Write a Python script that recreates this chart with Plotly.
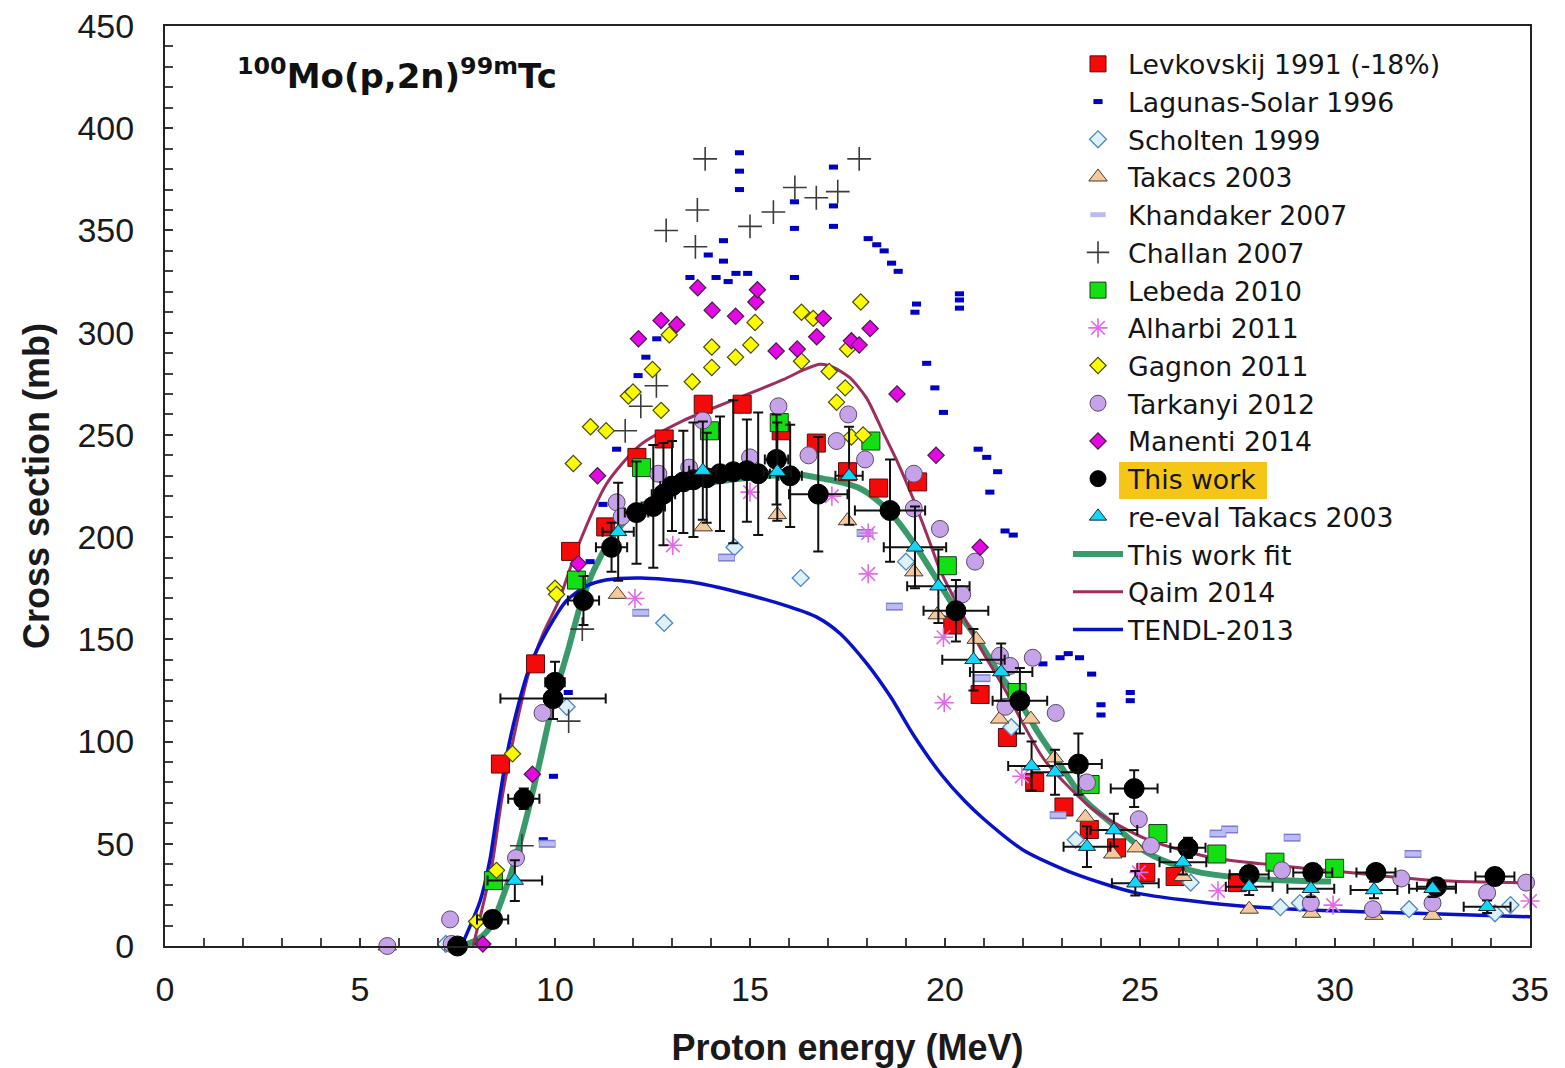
import plotly.graph_objects as go

# ---------------- data (proton energy in MeV, cross section in mb) ----------------
lev_x = [8.6, 9.5, 10.4, 11.3, 12.1, 12.8, 13.8, 14.8, 15.8, 16.7, 17.5, 18.3, 19.3, 20.2,
         20.9, 21.6, 22.3, 23.05, 23.7, 24.4, 25.15, 25.9, 27.5]
lev_y = [89, 138, 193, 205, 239, 248, 265, 265, 252, 246, 232, 224, 227, 157,
         123, 102, 80, 68, 57, 48, 36, 34, 31]

lag_x = [9.7, 9.96, 10.34, 10.9, 11.23, 11.58, 12.13, 12.33, 12.61, 13.46, 13.93, 14.13, 14.32,
         14.32, 14.44, 14.64, 14.94, 14.73, 14.73, 14.73, 16.14, 16.14, 16.14, 17.14, 17.14,
         17.14, 18.03, 18.25, 18.44, 18.63, 18.8, 19.23, 19.27, 20.37, 20.37, 20.37, 19.53,
         19.74, 19.96, 20.85, 21.07, 21.35, 21.15, 21.54, 21.75, 22.51, 22.95, 23.16, 23.45,
         23.76, 24.0, 24.0, 24.75, 24.75]
lag_y = [52, 83, 124, 188, 216, 243, 279, 288, 297, 327, 338, 327, 345,
         335, 325, 329, 329, 388, 379, 370, 364, 351, 327, 381, 362,
         352, 346, 343, 340, 334, 330, 310, 314, 319, 316, 312, 285,
         273, 261, 243, 239, 232, 222, 203, 201, 138, 141, 143, 141,
         133, 118, 113, 124, 120]

sch_x = [7.2, 10.3, 12.8, 14.6, 16.3, 19.0, 21.7, 23.35, 26.3, 28.6, 29.1, 31.9, 34.1, 34.5]
sch_y = [1, 117, 158, 195, 180, 188, 107, 52, 31, 19, 21, 18, 16, 20]

tak_x = [5.7, 7.4, 11.6, 13.8, 15.7, 17.5, 19.2, 19.8, 20.8, 21.4, 22.2, 22.8, 23.6, 24.3,
         24.9, 26.1, 27.8, 29.4, 31.0, 32.5]
tak_y = [0, 0, 172, 205, 211, 208, 183, 162, 150, 111, 111, 92, 63, 45,
         48, 34, 18, 16, 15, 15]

kha_x = [9.8, 12.2, 14.4, 17.95, 18.7, 20.95, 22.9, 27.0, 27.3, 28.9, 32.0]
kha_y = [50, 163, 190, 202, 166, 131, 64, 55, 57, 53, 45]

cha_x = [9.15, 10.35, 10.7, 11.8, 12.2, 12.6, 12.85, 13.6, 13.65, 13.85, 15.0, 15.6, 16.15,
         16.7, 17.25, 17.8]
cha_y = [49, 110, 155, 252, 264, 274, 350, 342, 360, 385, 352, 359, 371,
         366, 369, 385]

leb_x = [8.42, 10.55, 12.22, 13.96, 15.75, 18.1, 20.06, 21.85, 23.72, 25.46, 26.97, 28.46, 29.99]
leb_y = [32, 179, 234, 252, 256, 247, 186, 124, 79, 55, 45, 41, 38]

alh_x = [12.05, 13.02, 15.0, 17.1, 18.03, 18.03, 19.96, 19.98, 21.97, 24.97, 27.0, 29.95, 35.0]
alh_y = [170, 196, 222, 220, 202, 182, 151, 119, 83, 36, 27, 20, 22]

gag_x = [7.99, 8.5, 8.91, 10.0, 10.04, 10.47, 10.91, 11.31, 11.88, 12.0, 12.5, 12.72, 12.93,
         13.52, 14.02, 14.02, 14.63, 15.02, 15.13, 16.32, 16.62, 16.32, 17.03, 17.22, 17.44,
         17.5, 17.6, 17.84, 17.9]
gag_y = [12, 37, 94, 175, 172, 236, 254, 252, 269, 271, 282, 262, 299,
         276, 293, 283, 288, 294, 305, 310, 307, 286, 281, 266, 273,
         292, 249, 315, 250]

tar_x = [5.7, 7.31, 7.35, 9.0, 9.68, 11.58, 11.71, 12.65, 13.44, 13.79, 15.0, 15.73, 16.5,
         17.22, 17.52, 17.95, 19.2, 19.2, 19.87, 20.44, 20.77, 21.41, 21.55, 21.67, 22.25,
         22.84, 23.64, 24.97, 25.28, 28.64, 29.38, 30.97, 31.7, 32.5, 33.9, 34.9]
tar_y = [0, 13, 1, 43, 114, 217, 210, 231, 234, 257, 239, 264, 240,
         247, 260, 238, 231, 214, 204, 172, 188, 142, 117, 137, 141,
         114, 80, 62, 49, 37, 21, 18, 33, 21, 26, 31]

man_x = [8.15, 9.42, 10.6, 11.09, 12.14, 12.72, 13.12, 13.66, 14.03, 14.63, 15.15, 15.19,
         15.67, 16.21, 16.71, 16.88, 17.6, 17.8, 18.08, 18.77, 19.77, 20.9]
man_y = [1, 84, 187, 230, 297, 306, 304, 322, 311, 308, 315, 321,
         291, 292, 298, 307, 296, 294, 302, 270, 240, 195]

tw_x = [7.5, 8.4, 9.2, 10.0, 9.95, 10.73, 11.45, 12.09, 12.52, 12.78, 13.0, 13.29, 13.55,
        13.89, 14.23, 14.57, 14.92, 15.21, 15.68, 16.03, 16.75, 18.59, 20.28, 21.92, 23.42,
        24.85, 26.23, 27.8, 29.43, 31.05, 32.6, 34.1]
tw_y = [0, 13, 72, 129, 121, 169, 195, 212, 215, 221, 225, 227, 228,
        229, 231, 232, 232.5, 231, 238, 230, 221, 213, 164, 120, 89,
        77, 48, 35, 36, 36, 29, 34]
tw_dy = [0, 4, 5, 10, 10, 12, 12, 25, 30, 25, 22, 25, 28,
         22, 28, 35, 25, 30, 22, 25, 28, 25, 15, 16, 15,
         9, 5, 4, 4, 4, 4, 4]
tw_dx = [0, 0.4, 0.4, 0.25, 1.35, 0.4, 0.4, 0.3, 0.3, 0.3, 0.3, 0.3, 0.3,
         0.3, 0.3, 0.3, 0.3, 0.3, 0.3, 0.3, 0.75, 0.9, 0.83, 0.7, 0.6,
         0.6, 0.45, 0.5, 0.5, 0.5, 0.5, 0.5]

ret_x = [8.97, 11.62, 13.79, 15.7, 17.54, 19.23, 19.83, 20.73, 21.44, 22.22, 22.82, 23.64,
         24.33, 24.88, 26.1, 27.8, 29.38, 31.0, 32.5, 33.9]
ret_y = [32, 202.6, 232.5, 232, 230, 195, 176, 140, 134, 88, 85, 48.6,
         56.7, 30.7, 41, 29, 28, 27.4, 28, 19.2]
ret_dy = [10, 24, 24, 24, 24, 20, 18, 15, 14, 12, 11, 10,
          8, 6, 6, 4, 4, 4, 4, 3]
ret_dx = [0.7, 0.4, 0.35, 0.35, 0.35, 0.8, 0.8, 0.8, 0.8, 0.6, 0.6, 0.6,
          0.6, 0.6, 0.6, 0.6, 0.6, 0.6, 0.6, 0.6]

fit_x = [7.6, 8.0, 8.25, 8.46, 8.93, 9.27, 9.62, 9.96, 10.34, 10.64, 11.0, 11.4, 11.8, 12.2,
         12.8, 13.5, 14.5, 15.5, 16.3, 16.9, 17.3, 17.8, 18.2, 18.6, 19.2, 19.8, 20.3, 20.8,
         21.4, 21.9, 22.4, 22.9, 23.6, 24.4, 25.2, 26.3, 27.8, 29.9]
fit_y = [0, 3, 7, 14, 39, 63, 91, 120, 145, 166, 184, 198, 208, 215,
         221, 225, 228, 230, 230.5, 228.5, 227, 224, 219, 212, 197, 179, 164, 151,
         133, 120, 104, 90, 71, 58, 45.5, 37, 33, 31.5]

qaim_x = [7.9, 8.08, 8.38, 8.63, 8.93, 9.32, 9.7, 10.1, 10.6, 11.32, 12.18, 13.29, 14.57,
          15.85, 16.4, 16.8, 17.14, 17.56, 17.99, 18.42, 18.8, 19.2, 19.6, 19.87, 20.21,
          20.9, 21.49, 22.55, 23.82, 25.2, 26.9, 28.4, 30.5, 32.6, 35.0]
qaim_y = [0, 14, 39, 71, 101, 133, 153, 169, 196, 226, 245, 257, 267,
          277, 282, 284.5, 283, 278, 268, 251, 236, 218, 198, 184, 171,
          146, 127, 91, 66.5, 52, 43, 39.6, 35.7, 32, 30.8]

tendl_x = [7.6, 8.08, 8.33, 8.5, 8.76, 9.02, 9.36, 9.79, 10.3, 10.8, 11.3, 12.2, 13.5, 14.7,
           16.0, 16.7, 17.3, 18.0, 18.6, 19.2, 19.9, 20.5, 21.0, 22.0, 23.3, 24.9, 27.3,
           29.4, 32.1, 35.0]
tendl_y = [0, 22, 42, 63, 93, 115, 137, 154, 169, 176, 179, 180, 178, 173,
           166, 161, 153, 138, 122, 103, 84, 71, 62, 47, 35.5, 26, 20,
           17.6, 16, 14.3]

FONT = "Liberation Sans, Arial, sans-serif"
WIDE_FONT = "DejaVu Sans, sans-serif"

fig = go.Figure()

# evaluations / fits drawn beneath the measured points
def add_curve(name, x, y, color, width, rank):
    fig.add_trace(go.Scatter(
        x=x, y=y, mode="lines", name=name, legendrank=rank,
        line=dict(color=color, width=width, shape="spline", smoothing=0.7),
        cliponaxis=False))

add_curve("This work fit", fit_x, fit_y, "#3b9a6c", 6, 14)
add_curve("Qaim 2014", qaim_x, qaim_y, "#9c2f5c", 3, 15)
add_curve("TENDL-2013", tendl_x, tendl_y, "#0a12c8", 3.5, 16)


def add_points(name, x, y, symbol, size, fill, edge, edge_w, rank,
               showlegend=True, dx=None, dy=None):
    tr = go.Scatter(
        x=x, y=y, mode="markers", name=name, legendrank=rank, showlegend=showlegend,
        marker=dict(symbol=symbol, size=size, color=fill,
                    line=dict(color=edge, width=edge_w)),
        cliponaxis=False)
    if dy is not None:
        tr.error_y = dict(type="data", array=dy, color="#111", thickness=2, width=5)
    if dx is not None:
        tr.error_x = dict(type="data", array=dx, color="#111", thickness=2, width=5)
    fig.add_trace(tr)


add_points("Levkovskij 1991 (-18%)", lev_x, lev_y, "square", 18, "#f50a0a", "#5a0a0a", 1, 1)
add_points("Lagunas-Solar 1996", lag_x, lag_y, "line-ew", 6.5, "#0000c4", "#0000c4", 5, 2)
add_points("Scholten 1999", sch_x, sch_y, "diamond", 13, "#dcf1fb", "#4f86bf", 1.3, 3)
add_points("Takacs 2003", tak_x, tak_y, "triangle-up", 16, "#f6c99c", "#4a3a2a", 1, 4)
# Khandaker: lavender oblong with a darker rim
add_points("Khandaker 2007", kha_x, kha_y, "line-ew", 12, "#7c7cd0", "#7c7cd0", 8, 5,
           showlegend=False)
add_points("Khandaker 2007", kha_x, kha_y, "line-ew", 11, "#bcbcf4", "#bcbcf4", 5, 5)
add_points("Challan 2007", cha_x, cha_y, "cross-thin", 17, "#3c3c3c", "#3c3c3c", 1.6, 6)
add_points("Lebeda 2010", leb_x, leb_y, "square", 18, "#12e012", "#1a3a1a", 1, 7)
add_points("Alharbi 2011", alh_x, alh_y, "asterisk", 16, "#e26ae6", "#e26ae6", 1.6, 8)
add_points("Gagnon 2011", gag_x, gag_y, "diamond", 12.5, "#fcfc00", "#4a4a10", 1.2, 9)
add_points("Tarkanyi 2012", tar_x, tar_y, "circle", 17, "#c6a2e8", "#5a4a6a", 1, 10)
add_points("Manenti 2014", man_x, man_y, "diamond", 12.5, "#e408e4", "#4a1a4a", 1.2, 11)
add_points("This work", tw_x, tw_y, "circle", 20, "#000000", "#000000", 1, 12,
           dx=tw_dx, dy=tw_dy)
add_points("re-eval Takacs 2003", ret_x, ret_y, "triangle-up", 15, "#12d6fa", "#1a2a3a", 1, 13,
           dx=ret_dx, dy=ret_dy)

# reaction label
fig.add_annotation(
    x=1.8, y=426.5, xref="x", yref="y", xanchor="left", yanchor="middle", showarrow=False,
    text="<b><sup>100</sup>Mo(p,2n)<sup>99m</sup>Tc</b>",
    font=dict(family=WIDE_FONT, size=34, color="#111"))

# highlight behind the "This work" legend entry
fig.add_shape(type="rect", xref="paper", yref="paper",
              x0=(1119 - 165) / 1365, x1=(1267 - 165) / 1365,
              y0=(946 - 499) / 920, y1=(946 - 462) / 920,
              fillcolor="#f5c518", line=dict(width=0), layer="below")

axis_common = dict(
    showline=True, linecolor="#222", linewidth=2, mirror=True, automargin=False,
    showgrid=False, zeroline=False, ticks="inside", ticklen=8, tickwidth=1.5,
    tickcolor="#333", tickfont=dict(family=FONT, size=34, color="#1a1a1a"),
)

fig.update_layout(
    width=1565, height=1068,
    margin=dict(l=165, r=35, t=26, b=122),
    paper_bgcolor="white", plot_bgcolor="white",
    xaxis=dict(range=[0, 35], tick0=0, dtick=5,
               minor=dict(dtick=1, ticks="inside", ticklen=8, tickcolor="#444", showgrid=False),
               title=dict(text="<b>Proton energy (MeV)</b>",
                          font=dict(family=FONT, size=36, color="#1a1a1a"), standoff=29),
               ticklabelstandoff=12, **axis_common),
    yaxis=dict(range=[0, 450], tick0=0, dtick=50,
               minor=dict(dtick=10, ticks="inside", ticklen=8, tickcolor="#444", showgrid=False),
               title=dict(text="<b>Cross section (mb)</b>",
                          font=dict(family=FONT, size=36, color="#1a1a1a"), standoff=17),
               ticklabelstandoff=22, **axis_common),
    legend=dict(x=(1068 - 165) / 1365, y=(946 - 40) / 920, xanchor="left", yanchor="top",
                bgcolor="rgba(0,0,0,0)", borderwidth=0, traceorder="normal",
                font=dict(family=WIDE_FONT, size=26.7, color="#151515"),
                itemwidth=50, tracegroupgap=0),
    showlegend=True,
)

fig.write_html("out.html")
